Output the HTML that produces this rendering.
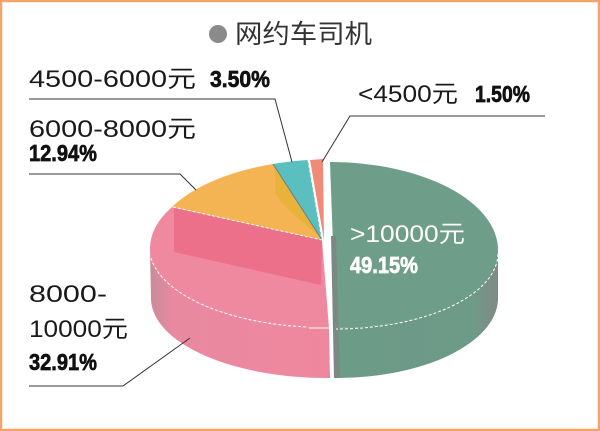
<!DOCTYPE html>
<html><head><meta charset="utf-8"><style>
html,body{margin:0;padding:0;background:#fff;}
svg{display:block;}
</style></head><body>
<svg width="600" height="431" viewBox="0 0 600 431" xmlns="http://www.w3.org/2000/svg">
<defs>
<linearGradient id="pside" x1="0" y1="0" x2="1" y2="0">
<stop offset="0" stop-color="#c98c9a"/><stop offset="0.12" stop-color="#e889a0"/><stop offset="1" stop-color="#ef879e"/>
</linearGradient>
<linearGradient id="gside" x1="0" y1="0" x2="1" y2="0">
<stop offset="0" stop-color="#6c9b88"/><stop offset="0.85" stop-color="#6e9a88"/><stop offset="1" stop-color="#808a86"/>
</linearGradient>
</defs>
<rect x="0" y="0" width="600" height="431" fill="#fff"/>
<rect x="1" y="1" width="598" height="429" fill="none" stroke="#f4a468" stroke-width="2.5"/>

<!-- title -->
<circle cx="218" cy="34" r="9" fill="#8a8a8a"/>
<text x="235" y="43" font-family="Liberation Sans, Noto Sans CJK SC, sans-serif" font-size="26" fill="#333" textLength="137" lengthAdjust="spacingAndGlyphs">网约车司机</text>

<!-- left pie side -->
<path d="M150,250 A176,80 0 0 0 329,328 L330,378 A176,80 0 0 1 151,300 Z" fill="url(#pside)"/>
<!-- pink top -->
<path d="M322,240 L172,207 A176,86 0 0 0 150,250 A176,80 0 0 0 329,328 Z" fill="#ef89a0"/>
<path d="M174,208 L322,240 L321,285 L174,252 Z" fill="#ec7089"/>
<!-- orange -->
<path d="M322,240 L273,164 A176,86 0 0 0 172,207 Z" fill="#f4b454"/>
<path d="M275,165 L275,193 Q285,210 322,238 Z" fill="#e9b33b"/>
<!-- teal -->
<path d="M322,240 L308,160 A176,86 0 0 0 273,164 Z" fill="#5bbfbf"/>
<!-- salmon -->
<path d="M324,240 L323,159 L310,160 Z" fill="#ef8b76"/>
<!-- boundaries -->
<path d="M173,207 L322,240" stroke="#fff" stroke-width="1" stroke-dasharray="3,2" fill="none"/>
<path d="M273,164 L322,240" stroke="#6b7f80" stroke-width="1" fill="none"/>
<path d="M308,160 L322,240" stroke="#fff" stroke-width="1" stroke-dasharray="3,2" fill="none"/>
<path d="M151,258 A176,80 0 0 0 308,327" stroke="#fff" stroke-width="1" stroke-dasharray="3,2" fill="none"/>
<path d="M309,328 L329,328" stroke="#fff" stroke-width="1" fill="none"/>

<!-- green -->
<path d="M498,250 L498,300 A162,80 0 0 1 338,378 L336,328 A162,80 0 0 0 498,250 Z" fill="url(#gside)"/>
<path d="M330,162 A168,88 0 0 1 498,250 A162,78 0 0 1 336,328 Z" fill="#6e9d89"/>
<path d="M331,236 L336,236 L340,378 L334,378 Z" fill="#7b8984"/>
<path d="M498,254 A162,76 0 0 1 336,329" stroke="#fff" stroke-width="1" stroke-dasharray="3,2" fill="none"/>

<!-- leader lines -->
<g stroke="#333" stroke-width="1" fill="none">
<path d="M29,99 L275,99 L292,162"/>
<path d="M545,116 L350,116 L322,162"/>
<path d="M29,174 L180,174 L196,190"/>
<path d="M29,386 L123,386 L190,338"/>
</g>

<!-- labels -->
<g font-family="Liberation Sans, Noto Sans CJK SC, sans-serif" font-size="24" fill="#1a1a1a">
<text x="29" y="87" textLength="167" lengthAdjust="spacingAndGlyphs">4500-6000元</text>
<text x="358" y="102" textLength="100" lengthAdjust="spacingAndGlyphs">&lt;4500元</text>
<text x="29" y="137" textLength="167" lengthAdjust="spacingAndGlyphs">6000-8000元</text>
<text x="29" y="302" textLength="78" lengthAdjust="spacingAndGlyphs">8000-</text>
<text x="29" y="337" textLength="99" lengthAdjust="spacingAndGlyphs">10000元</text>
<text x="350" y="242" fill="#fff" textLength="115" lengthAdjust="spacingAndGlyphs">&gt;10000元</text>
</g>
<g font-family="Liberation Sans Narrow, Liberation Sans, sans-serif" font-size="23" font-weight="bold" fill="#111" stroke="#111" stroke-width="0.7">
<text x="210" y="87" textLength="60" lengthAdjust="spacingAndGlyphs">3.50%</text>
<text x="475" y="102" textLength="55" lengthAdjust="spacingAndGlyphs">1.50%</text>
<text x="29" y="161" textLength="68" lengthAdjust="spacingAndGlyphs">12.94%</text>
<text x="29" y="370" textLength="68" lengthAdjust="spacingAndGlyphs">32.91%</text>
<text x="350" y="273" fill="#fff" stroke="#fff" textLength="68" lengthAdjust="spacingAndGlyphs">49.15%</text>
</g>
</svg>
</body></html>
